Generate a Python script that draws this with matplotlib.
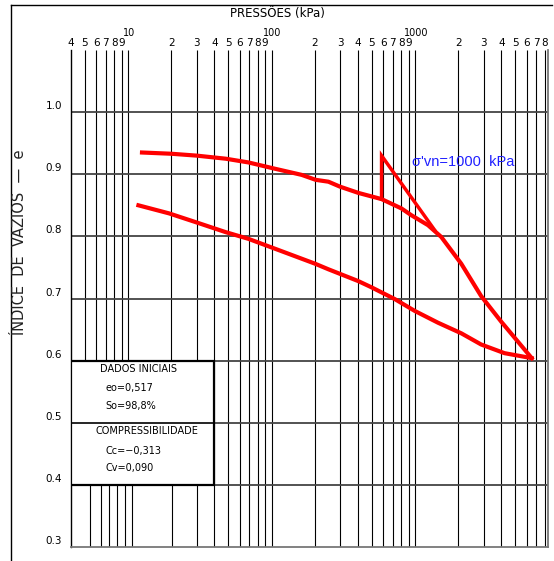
import matplotlib
matplotlib.use("Agg")
import matplotlib.pyplot as plt
from matplotlib.patches import Rectangle
from matplotlib.lines import Line2D
from matplotlib.ticker import NullLocator

plt.rcParams['font.family'] = ['DejaVu Sans']

# ---------------- data ----------------
# loading branch (pressure kPa, void ratio)
load_p = [12.5, 20, 30, 48, 69, 105, 162, 203, 249, 300, 402, 584, 803, 943, 1231, 1523, 2098, 2885, 3975, 5190, 6500]
load_e = [0.935, 0.933, 0.930, 0.925, 0.919, 0.909, 0.899, 0.891, 0.888, 0.880, 0.870, 0.860, 0.845, 0.834, 0.818, 0.799, 0.756, 0.704, 0.663, 0.631, 0.604]
# unloading branch
unload_p = [6500, 4200, 2885, 2098, 1445, 995, 723, 497, 402, 249, 201, 106, 69, 47.6, 29.5, 19.3, 11.8]
unload_e = [0.604, 0.612, 0.626, 0.644, 0.661, 0.680, 0.699, 0.718, 0.728, 0.747, 0.756, 0.780, 0.796, 0.807, 0.823, 0.837, 0.850]
# preconsolidation construction
constr_p = [584, 584, 1370]
constr_e = [0.860, 0.930, 0.810]

grid_p = [4, 5, 6, 7, 8, 9,
          10, 20, 30, 40, 50, 60, 70, 80, 90,
          100, 200, 300, 400, 500, 600, 700, 800, 900,
          1000, 2000, 3000, 4000, 5000, 6000, 7000, 8000]
lower_grid_p = [5.45, 6.49, 7.38, 8.39, 9.53, 10.65, 20.2, 30.1]
grid_e = [0.4, 0.5, 0.6, 0.7, 0.8, 0.9, 1.0]

minor_lbl_p = [4, 5, 6, 7, 8, 9,
               20, 30, 40, 50, 60, 70, 80, 90,
               200, 300, 400, 500, 600, 700, 800, 900,
               2000, 3000, 4000, 5000, 6000, 7000, 8000]
minor_lbl = ['4', '5', '6', '7', '8', '9',
             '2', '3', '4', '5', '6', '7', '8', '9',
             '2', '3', '4', '5', '6', '7', '8', '9',
             '2', '3', '4', '5', '6', '7', '8']
decade_p = [10, 100, 1000]
decade_lbl = ['10', '100', '1000']

ytick_vals = [0.3, 0.4, 0.5, 0.6, 0.7, 0.8, 0.9, 1.0]
ytick_lbl = ['0.3', '0.4', '0.5', '0.6', '0.7', '0.8', '0.9', '1.0']

table_head1 = 'DADOS INICIAIS'
table_rows1 = ['eo=0,517', 'So=98,8%']
table_head2 = 'COMPRESSIBILIDADE'
table_rows2 = ['Cc=\u22120,313', 'Cv=0,090']

# ---------------- figure ----------------
W, H = 554, 561
fig = plt.figure(figsize=(W / 100, H / 100), dpi=100)
ax = fig.add_axes([71 / W, 14 / H, 477 / W, 497 / H])
ax.set_xscale('log')
XMIN, XMAX = 4, 8440
ax.set_xlim(XMIN, XMAX)
ax.set_ylim(0.3, 1.1)
for axis in (ax.xaxis, ax.yaxis):
    axis.set_major_locator(NullLocator())
    axis.set_minor_locator(NullLocator())

ax.spines['top'].set_visible(False)
ax.spines['left'].set_color('black')
ax.spines['left'].set_linewidth(1.0)
for s in ('bottom', 'right'):
    ax.spines[s].set_color('#777777')
    ax.spines[s].set_linewidth(1.3)

# grid
for p in grid_p:
    if p == 4:
        continue
    ymin = 0.4 if p < 40 else 0.3
    ax.vlines(p, ymin, 1.1, color='black', lw=0.8, zorder=1)
for p in lower_grid_p:
    ax.vlines(p, 0.3, 0.4, color='black', lw=0.8, zorder=1)
for e in grid_e:
    ax.hlines(e, XMIN, XMAX, color='#444444', lw=1.3, zorder=1)

# table
ax.add_patch(Rectangle((4, 0.4), 36, 0.2, facecolor='white', edgecolor='black',
                       lw=1.6, zorder=3))
ax.hlines(0.5, 4, 40, color='black', lw=1.2, zorder=4)

# curves
ax.plot(load_p, load_e, color='red', lw=3, zorder=5, solid_joinstyle='round')
ax.plot(unload_p, unload_e, color='red', lw=3, zorder=5, solid_joinstyle='round')
ax.plot(constr_p, constr_e, color='red', lw=2.5, zorder=5, solid_joinstyle='miter')

# top labels
xt = ax.get_xaxis_transform()
for p, l in zip(minor_lbl_p, minor_lbl):
    ax.annotate(l, xy=(p, 1), xycoords=xt, xytext=(0, 7), textcoords='offset pixels',
                ha='center', va='center', fontsize=7.5, annotation_clip=False)
for p, l in zip(decade_p, decade_lbl):
    ax.annotate(l, xy=(p, 1), xycoords=xt, xytext=(1, 17), textcoords='offset pixels',
                ha='center', va='center', fontsize=7, annotation_clip=False)

# y labels
yt = ax.get_yaxis_transform()
for v, l in zip(ytick_vals, ytick_lbl):
    ax.annotate(l, xy=(0, v), xycoords=yt, xytext=(-9, 6), textcoords='offset pixels',
                ha='right', va='center', fontsize=7.5, annotation_clip=False)

fig.text(277 / W, 1 - 14 / H, 'PRESSÕES (kPa)', ha='center', va='center', fontsize=8.5)
fig.text(20 / W, 1 - 242 / H, 'ÍNDICE  DE  VAZIOS  —  e', rotation=90,
         ha='center', va='center', fontsize=10.5, color='#222222')

# table text
fs = 7
fig.text(139 / W, 1 - 369 / H, table_head1, ha='center', va='center', fontsize=fs)
fig.text(105 / W, 1 - 388 / H, table_rows1[0], ha='left', va='center', fontsize=fs)
fig.text(105 / W, 1 - 406 / H, table_rows1[1], ha='left', va='center', fontsize=fs)
fig.text(147 / W, 1 - 431 / H, table_head2, ha='center', va='center', fontsize=fs)
fig.text(105 / W, 1 - 451 / H, table_rows2[0], ha='left', va='center', fontsize=fs)
fig.text(105 / W, 1 - 468 / H, table_rows2[1], ha='left', va='center', fontsize=fs)

# annotation
fig.text(412 / W, 1 - 162 / H, "σ'vn=1000  kPa", ha='left', va='center',
         fontsize=10.5, color='#1f1fff', family='Liberation Sans')

# outer frame (top & left)
fig.add_artist(Line2D([11 / W, 552 / W], [1 - 5 / H, 1 - 5 / H], color='black', lw=1.0))
fig.add_artist(Line2D([11 / W, 11 / W], [1 - 5 / H, 0], color='black', lw=1.0))

fig.savefig('out.png', dpi=100)
